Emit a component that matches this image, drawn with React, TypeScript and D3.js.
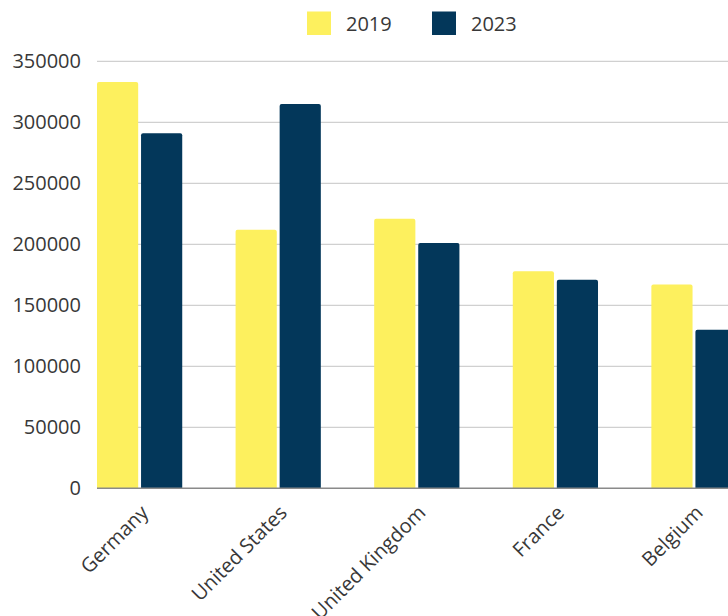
import React from "react";
import * as d3 from "d3";

const categories = ["Germany", "United States", "United Kingdom", "France", "Belgium"];
const seriesNames = ["2019", "2023"];
const values2019 = [333000, 212000, 221000, 178000, 167000];
const values2023 = [291000, 315000, 201000, 171000, 130000];
const yTicks = [0, 50000, 100000, 150000, 200000, 250000, 300000, 350000];
const colors = ["#FDF05E", "#03375A"];

export default function App() {
  const W = 728, H = 616;
  const left = 97, right = 736.6;
  const top = 61.3, bottom = 488.3;
  const font = "'Open Sans', sans-serif";
  const textColor = "#383838";

  const x0 = d3.scaleBand<string>().domain(categories).range([left, right]).paddingInner(0.385).paddingOuter(0).align(0);
  const x1 = d3.scaleBand<string>().domain(seriesNames).range([0, x0.bandwidth()]).paddingInner(0.065);
  const y = d3.scaleLinear().domain([0, 350000]).range([bottom, top]);
  const series = [values2019, values2023];

  return (
    <svg width={W} height={H} style={{ position: "absolute", left: 0, top: 0, fontFamily: font }}>
      <rect width={W} height={H} fill="#fff" />
      {yTicks.map((t) => (
        <g key={t}>
          {t !== 0 && <line x1={left} x2={W} y1={y(t)} y2={y(t)} stroke="#d0d0d0" strokeWidth={1.2} />}
          <text x={81} y={y(t)} dy="0.35em" textAnchor="end" fontSize={20} fill={textColor}>{t}</text>
        </g>
      ))}
      {categories.map((c, i) => (
        <g key={c} transform={`translate(${x0(c)},0)`}>
          {seriesNames.map((s, j) => {
            const v = series[j][i];
            const bx = x1(s)!;
            const bw = x1.bandwidth();
            const by = y(v);
            const r = 2;
            const d = `M${bx},${bottom} V${by + r} Q${bx},${by} ${bx + r},${by} H${bx + bw - r} Q${bx + bw},${by} ${bx + bw},${by + r} V${bottom} Z`;
            return <path key={s} d={d} fill={colors[j]} />;
          })}
        </g>
      ))}
      <line x1={left} x2={W} y1={bottom} y2={bottom} stroke="#8a8a8a" strokeWidth={1.5} />
      {categories.map((c) => {
        const cx = x0(c)! + x0.bandwidth() / 2 + 10;
        const cy = 514;
        return (
          <text key={c} transform={`translate(${cx},${cy}) rotate(-45)`} textAnchor="end" fontSize={20} fill={textColor}>{c}</text>
        );
      })}
      {seriesNames.map((s, j) => {
        const lx = [307, 432][j];
        return (
          <g key={s}>
            <rect x={lx} y={11.5} width={24} height={23.5} fill={colors[j]} />
            <text x={lx + 39} y={23.5} dy="0.35em" fontSize={20} fill={textColor}>{s}</text>
          </g>
        );
      })}
    </svg>
  );
}
